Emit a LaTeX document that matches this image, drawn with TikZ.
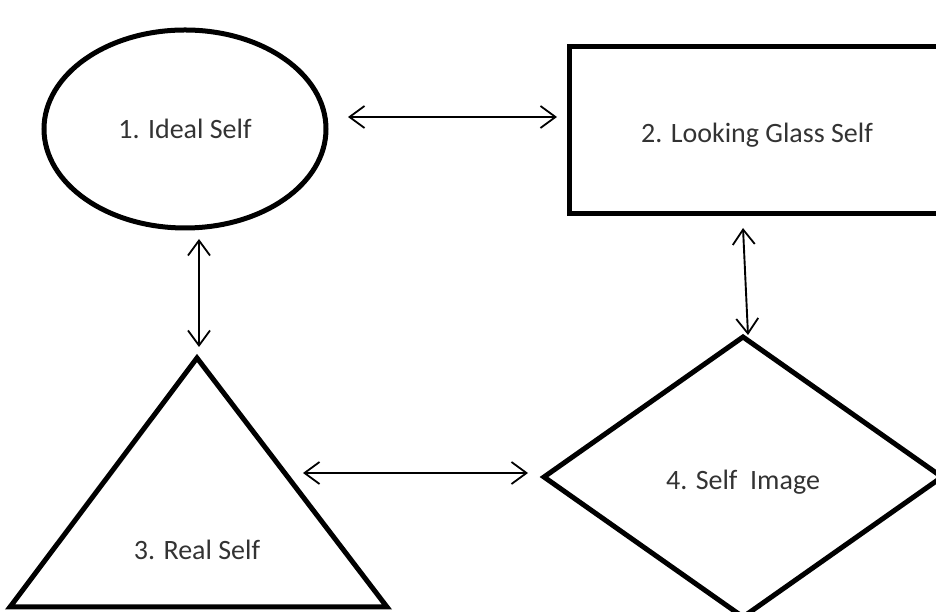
\documentclass[tikz,border=0pt]{standalone}
\usepackage{fontspec}
\setmainfont{Carlito}
\usetikzlibrary{arrows.meta,shapes.geometric}

\begin{document}
\begin{tikzpicture}[x=1pt, y=1pt, line join=miter,
  shapebox/.style={draw=black, line width=5pt, inner sep=0pt, outer sep=0pt},
  label text/.style={text=black!80, font=\fontsize{28}{32}\selectfont},
  link/.style={line width=1.9pt, {Straight Barb[length=15pt,width=22pt,line width=1.8pt]}-{Straight Barb[length=15pt,width=22pt,line width=1.8pt]}}]
  % ========================================================
  % 0. CANVAS
  % ========================================================
  \useasboundingbox (0,0) rectangle (936,612);
  \clip (0,0) rectangle (936,612);

  % ========================================================
  % 1. THE FOUR SELVES
  % ========================================================
  \node[shapebox, ellipse, minimum width=282pt, minimum height=198pt] (ideal) at (185,483) {};
  \node[label text] at (ideal.center) {1. Ideal Self};

  \node[shapebox, rectangle, minimum width=377pt, minimum height=167pt] (looking) at (757.5,481.5) {};
  \node[label text] at (757,477) {2. Looking Glass Self};

  % triangle drawn directly
  \coordinate (apex) at (197,254);
  \coordinate (baseL) at (10,5);
  \coordinate (baseR) at (387,5);
  \draw[line width=5pt] (apex) -- (baseR) -- (baseL) -- cycle;
  \node[label text] (real) at (197,62) {3. Real Self};
  \coordinate (realside) at (285,139);

  \node[shapebox, diamond, minimum width=398pt, minimum height=280pt] (image) at (743,135) {};
  \node[label text] at (743,130) {4. Self~ Image};

  % ========================================================
  % 2. TWO-WAY LINKS
  % ========================================================
  \draw[link] ([shift={(22,12)}]ideal.east) -- ([shift={(-12,13.5)}]looking.west);
  \draw[link] ([shift={(14,-11)}]ideal.south) -- ([shift={(2,11)}]apex);
  \draw[link] ([shift={(-14.5,-14)}]looking.south) -- ([shift={(5,2)}]image.north);
  \draw[link] ([shift={(18,0)}]realside) -- ([shift={(-16,4)}]image.west);

\end{tikzpicture}
\end{document}
